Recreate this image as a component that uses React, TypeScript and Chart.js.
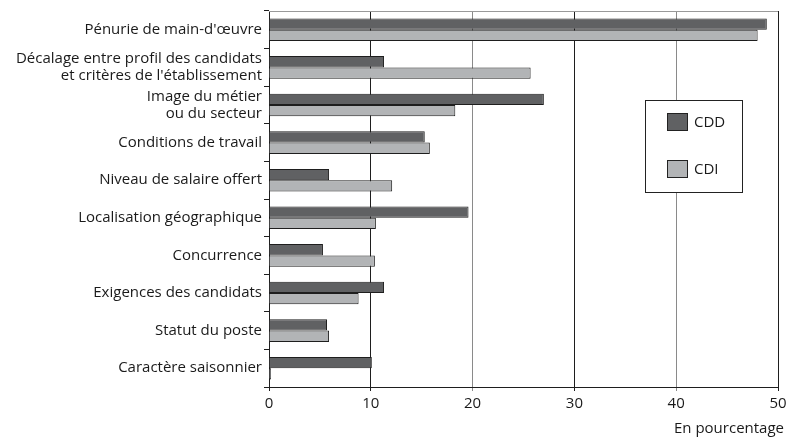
import React, { useEffect, useRef } from "react";
import { Chart, registerables } from "chart.js";

Chart.register(...registerables);

const categories: (string | string[])[] = [
  "Pénurie de main-d'œuvre",
  ["Décalage entre profil des candidats", "et critères de l'établissement"],
  ["Image du métier", "ou du secteur"],
  "Conditions de travail",
  "Niveau de salaire offert",
  "Localisation géographique",
  "Concurrence",
  "Exigences des candidats",
  "Statut du poste",
  "Caractère saisonnier",
];

const cddValues = [48.9, 11.3, 27.0, 15.3, 5.9, 19.6, 5.3, 11.3, 5.7, 10.1];
const cdiValues = [48.0, 25.7, 18.3, 15.8, 12.1, 10.5, 10.4, 8.8, 5.9, 0.2];

const seriesNames = ["CDD", "CDI"];
const seriesColors = ["#606163", "#b2b4b6"];

const xTicks = [0, 10, 20, 30, 40, 50];
const axisTitle = "En pourcentage";

const FONT = "'Open Sans', sans-serif";
const FONT_SIZE = 15;
const TEXT = "#1a1a1a";

// Draws the top frame line, the boxed legend and the unit caption.
const decorations = {
  id: "decorations",
  afterDraw(chart: Chart) {
    const { ctx, chartArea } = chart;
    ctx.save();
    ctx.strokeStyle = "#9a9a9a";
    ctx.lineWidth = 1;
    ctx.beginPath();
    ctx.moveTo(chartArea.left, chartArea.top + 0.5);
    ctx.lineTo(chartArea.right, chartArea.top + 0.5);
    ctx.stroke();

    // legend box
    const bx = 645.5, by = 100.5, bw = 97, bh = 92;
    ctx.fillStyle = "#ffffff";
    ctx.fillRect(bx, by, bw, bh);
    ctx.strokeStyle = "#222222";
    ctx.strokeRect(bx, by, bw, bh);
    chart.data.datasets.forEach((ds: any, i: number) => {
      const sy = 113.5 + i * 47;
      ctx.fillStyle = ds.backgroundColor;
      ctx.fillRect(667.5, sy, 20, 17);
      ctx.strokeStyle = "#222222";
      ctx.strokeRect(667.5, sy, 20, 17);
      ctx.fillStyle = TEXT;
      ctx.font = `${FONT_SIZE}px ${FONT}`;
      ctx.textAlign = "left";
      ctx.textBaseline = "middle";
      ctx.fillText(ds.label, 694, sy + 9);
    });

    ctx.fillStyle = TEXT;
    ctx.font = `${FONT_SIZE}px ${FONT}`;
    ctx.textAlign = "right";
    ctx.textBaseline = "middle";
    ctx.fillText(axisTitle, 784, 429);
    ctx.restore();
  },
};

export default function App() {
  const canvasRef = useRef<HTMLCanvasElement | null>(null);

  useEffect(() => {
    if (!canvasRef.current) return;
    const chart = new Chart(canvasRef.current, {
      type: "bar",
      data: {
        labels: categories,
        datasets: [
          {
            label: seriesNames[0],
            data: cddValues,
            backgroundColor: seriesColors[0],
            borderColor: "#1e1e1e",
            borderWidth: 1,
            categoryPercentage: 0.6,
            barPercentage: 1,
          },
          {
            label: seriesNames[1],
            data: cdiValues,
            backgroundColor: seriesColors[1],
            borderColor: "#1e1e1e",
            borderWidth: 1,
            categoryPercentage: 0.6,
            barPercentage: 1,
          },
        ],
      },
      options: {
        indexAxis: "y",
        animation: false,
        responsive: false,
        maintainAspectRatio: false,
        layout: { padding: { top: 11, right: 0, left: 0, bottom: 0 } },
        plugins: {
          legend: { display: false },
          tooltip: { enabled: false },
        },
        scales: {
          x: {
            min: xTicks[0],
            max: xTicks[xTicks.length - 1],
            afterBuildTicks: (axis: any) => {
              axis.ticks = xTicks.map((v) => ({ value: v }));
            },
            afterFit: (axis: any) => {
              axis.height = 50;
              axis.paddingRight = 9;
              axis.paddingLeft = 0;
            },
            grid: {
              color: (c: any) =>
                c.index === 2 || c.index === 4 ? "#8a8a8a" : "#1e1e1e",
              lineWidth: 1,
              tickLength: 4,
              drawTicks: true,
            },
            border: { color: "#1e1e1e", width: 1 },
            ticks: {
              color: TEXT,
              font: { family: FONT, size: FONT_SIZE },
              padding: 4,
              maxRotation: 0,
            },
          },
          y: {
            afterFit: (axis: any) => {
              axis.width = 269;
            },
            grid: {
              drawOnChartArea: false,
              drawTicks: true,
              tickLength: 5,
              color: "#1e1e1e",
            },
            border: { color: "#1e1e1e", width: 1 },
            ticks: {
              color: TEXT,
              font: { family: FONT, size: FONT_SIZE, lineHeight: 1.13 },
              padding: 2,
              autoSkip: false,
            },
          },
        },
      },
      plugins: [decorations],
    });
    return () => chart.destroy();
  }, []);

  return (
    <div style={{ position: "fixed", left: 0, top: 0, width: 787, height: 437, background: "#fff" }}>
      <canvas ref={canvasRef} width={787} height={437} />
    </div>
  );
}
